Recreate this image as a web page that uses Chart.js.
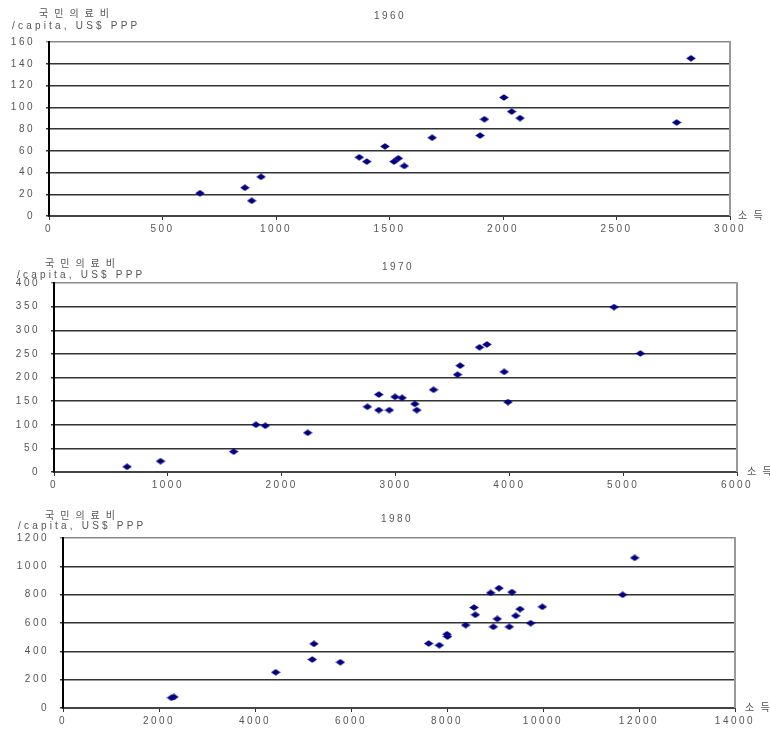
<!DOCTYPE html>
<html>
<head>
<meta charset="utf-8">
<script src="https://cdn.jsdelivr.net/npm/chart.js@4.4.1/dist/chart.umd.min.js"></script>
<style>
    html, body { margin: 0; padding: 0; background: #fff; }
    body { width: 770px; height: 729px; position: relative; overflow: hidden; }
    .box { position: absolute; left: 0; width: 770px; }
</style>
</head>
<body>
<div class="box" style="top:0;height:245px"><canvas id="c1960"></canvas></div>
<div class="box" style="top:245px;height:255px"><canvas id="c1970"></canvas></div>
<div class="box" style="top:500px;height:229px"><canvas id="c1980"></canvas></div>
<script>
// 1960: income vs health spending per capita (US$ PPP)
const income1960 = [665, 863, 893, 934, 1367, 1400, 1480, 1520, 1539, 1565, 1688, 1899, 1918, 2004, 2038, 2075, 2765, 2828];
const health1960 = [21, 26, 14, 36, 54, 50, 64, 50, 53, 46, 72, 74, 89, 109, 96, 90, 86, 145];

// 1970
const income1970 = [642, 936, 1578, 1774, 1856, 2229, 2753, 2853, 2853, 2946, 2996, 3058, 3170, 3187, 3334, 3545, 3568, 3738, 3803, 3955, 3988, 4920, 5151];
const health1970 = [11, 23, 43, 100, 98, 83, 138, 164, 131, 131, 159, 157, 144, 131, 174, 206, 225, 264, 270, 212, 148, 349, 251];

// 1980
const income1980 = [2260, 2310, 4431, 5194, 5229, 5778, 7618, 7840, 8000, 8010, 8389, 8563, 8590, 8910, 8965, 9048, 9083, 9298, 9354, 9431, 9521, 9743, 9986, 11660, 11910];
const health1980 = [72, 78, 252, 342, 453, 323, 455, 443, 521, 504, 585, 709, 658, 813, 573, 629, 846, 573, 818, 651, 698, 599, 714, 799, 1060];

const yLabelKo = '국민의료비';
const yLabelEn = '/capita, US$ PPP';
const xLabel = '소 득';

const TEXT_FONT = '"Liberation Sans", "Noto Sans CJK KR", sans-serif';
const MARK_COLOR = '#000080';

// flattened diamond marker
function makeDiamond() {
    const c = document.createElement('canvas');
    c.width = 10;
    c.height = 7;
    const g = c.getContext('2d');
    g.fillStyle = MARK_COLOR;
    g.beginPath();
    g.moveTo(5, 0.3);
    g.lineTo(9.8, 3.5);
    g.lineTo(5, 6.7);
    g.lineTo(0.2, 3.5);
    g.closePath();
    g.fill();
    return c;
}
const diamond = makeDiamond();

const spacingPlugin = {
    id: 'spacing',
    beforeLayout(chart) { chart.ctx.letterSpacing = '2.5px'; },
    beforeDraw(chart) { chart.ctx.letterSpacing = '2.5px'; }
};

const labelsPlugin = {
    id: 'labels',
    afterDraw(chart, args, opts) {
        const ctx = chart.ctx;
        const area = chart.chartArea;
        ctx.save();
        // right frame
        ctx.strokeStyle = '#999';
        ctx.lineWidth = 2;
        ctx.beginPath();
        ctx.moveTo(area.right, area.top - 1);
        ctx.lineTo(area.right, area.bottom);
        ctx.stroke();

        ctx.fillStyle = '#555';
        ctx.textBaseline = 'middle';
        ctx.font = '10px ' + TEXT_FONT;
        ctx.letterSpacing = '2.5px';
        ctx.textAlign = 'center';
        ctx.fillText(opts.title, opts.titleX, opts.titleY);

        ctx.textAlign = 'left';
        ctx.letterSpacing = '3.2px';
        ctx.fillText(yLabelEn, opts.enX, opts.enY);
        ctx.font = '10px "Noto Sans CJK KR", sans-serif';
        ctx.letterSpacing = '6px';
        ctx.fillText(yLabelKo, opts.koX, opts.koY);
        ctx.letterSpacing = '2px';
        ctx.fillText(xLabel, opts.xlX, area.bottom - 1);
        ctx.restore();
    }
};

function buildChart(id, xs, ys, xMax, xStep, yMax, yStep, pad, yWidth, text) {
    const points = xs.map((x, i) => ({ x: x, y: ys[i] }));
    return new Chart(document.getElementById(id), {
        type: 'scatter',
        data: {
            datasets: [{
                data: points,
                pointStyle: diamond,
                pointRadius: 5,
                pointHoverRadius: 5,
                backgroundColor: MARK_COLOR,
                borderColor: MARK_COLOR
            }]
        },
        options: {
            responsive: true,
            maintainAspectRatio: false,
            animation: false,
            layout: { padding: pad },
            plugins: {
                legend: { display: false },
                tooltip: { enabled: false },
                labels: text
            },
            scales: {
                x: {
                    type: 'linear',
                    min: 0,
                    max: xMax,
                    afterFit: s => { s.height = 20; },
                    ticks: {
                        stepSize: xStep,
                        maxRotation: 0,
                        autoSkip: false,
                        padding: 3,
                        color: '#555',
                        font: { size: 10, family: TEXT_FONT },
                        callback: v => String(v)
                    },
                    grid: {
                        drawOnChartArea: false,
                        drawTicks: true,
                        tickLength: 4,
                        color: '#333'
                    },
                    border: { color: '#444', width: 2 }
                },
                y: {
                    type: 'linear',
                    min: 0,
                    max: yMax,
                    afterFit: s => { s.width = yWidth; },
                    ticks: {
                        stepSize: yStep,
                        padding: 11,
                        color: '#555',
                        font: { size: 10, family: TEXT_FONT },
                        callback: v => String(v)
                    },
                    grid: {
                        tickLength: 3,
                        lineWidth: 1.5,
                        color: c => (c.tick && c.tick.value === yMax) ? '#888' : '#333'
                    },
                    border: { color: '#000', width: 2 }
                }
            }
        },
        plugins: [spacingPlugin, labelsPlugin]
    });
}

buildChart('c1960', income1960, health1960, 3000, 500, 160, 20,
    { left: 0, top: 42, right: 40, bottom: 9 }, 49,
    { title: '1960', titleX: 390, titleY: 16, koX: 39, koY: 13, enX: 12, enY: 26, xlX: 738 });

buildChart('c1970', income1970, health1970, 6000, 1000, 400, 50,
    { left: 0, top: 38, right: 33, bottom: 8 }, 54,
    { title: '1970', titleX: 398, titleY: 22, koX: 45, koY: 18, enX: 17, enY: 30, xlX: 747 });

buildChart('c1980', income1980, health1980, 14000, 2000, 1200, 200,
    { left: 0, top: 38, right: 35, bottom: 1 }, 63,
    { title: '1980', titleX: 397, titleY: 19, koX: 45, koY: 15, enX: 18, enY: 26, xlX: 745 });
</script>
</body>
</html>
